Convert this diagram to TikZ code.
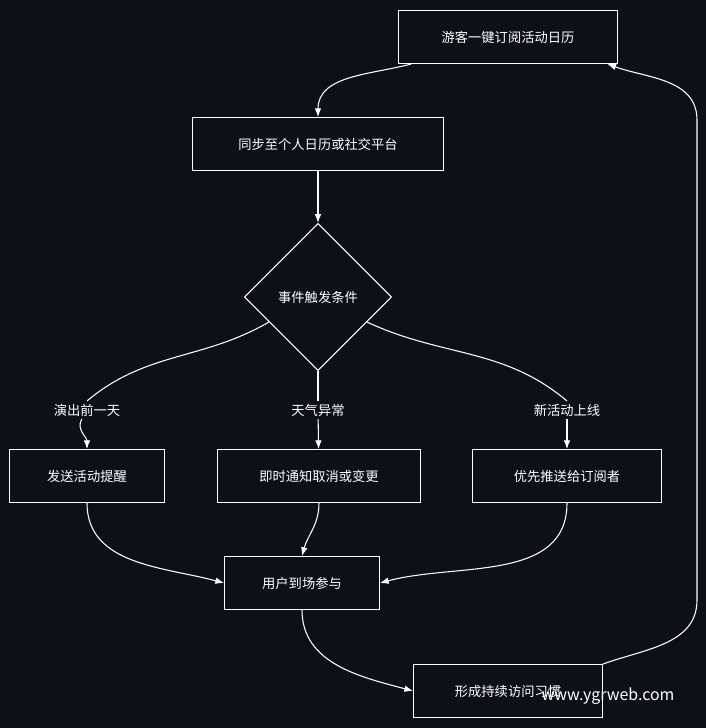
\documentclass[tikz,border=0pt]{standalone}
\usepackage{fontspec}
\setmainfont{Noto Sans CJK SC}
\usetikzlibrary{positioning, arrows.meta, shapes.geometric}
\definecolor{bgdark}{HTML}{0D1117}
\tikzset{
    flowStep/.style={rectangle, draw=white, thick, fill=bgdark, text=white, align=center, minimum height=1.4cm},
    cond/.style={diamond, draw=white, thick, fill=bgdark, text=white, aspect=1, minimum size=3.9cm, inner sep=0pt},
    cue/.style={text=white, fill=bgdark, inner sep=2pt},
    arrow/.style={-Latex, white, thick}
}
\begin{document}
\begin{tikzpicture}[x=0.0265cm, y=-0.0265cm]
    \fill[bgdark] (0,0) rectangle (706,728);
    \useasboundingbox (0,0) rectangle (706,728);

    % main flow
    \node[flowStep, minimum width=5.8cm] (subscribe) at (508,37) {游客一键订阅活动日历};
    \node[flowStep, minimum width=6.65cm] (sync) at (318,144) {同步至个人日历或社交平台};
    \node[cond] (trigger) at (318,297) {事件触发条件};

    % branches
    \node[cue] (cueShow) at (87,410) {演出前一天};
    \node[cue] (cueWeather) at (318,410) {天气异常};
    \node[cue] (cueNew) at (567,410) {新活动上线};
    \node[flowStep, minimum width=4.1cm] (remind) at (87,476) {发送活动提醒};
    \node[flowStep, minimum width=5.4cm] (notify) at (319,476) {即时通知取消或变更};
    \node[flowStep, minimum width=5cm] (push) at (567,476) {优先推送给订阅者};

    \node[flowStep, minimum width=4.1cm] (attend) at (302,583) {用户到场参与};
    \node[flowStep, minimum width=5cm] (habit) at (508,691) {形成持续访问习惯};

    \draw[arrow] ([xshift=10]subscribe.south west) to[out=-165,in=90] (sync.north);
    \draw[arrow] (sync) -- (trigger);
    \draw[white, thick] ([shift={(-12,-12)}]trigger.south west) to[out=-150,in=40] (cueShow.north);
    \draw[white, thick] (trigger.south) -- (cueWeather.north);
    \draw[white, thick] ([shift={(12,-12)}]trigger.south east) to[out=-25,in=140] (cueNew.north);
    \draw[arrow] (cueShow) to[out=-120,in=90] (remind);
    \draw[arrow] (cueWeather) -- (notify);
    \draw[arrow] (cueNew) -- (push);
    \draw[arrow] (remind.south) to[out=-90,in=165] (attend.west);
    \draw[arrow] (notify.south) to[out=-90,in=75] (attend.north);
    \draw[arrow] (push.south) to[out=-90,in=15] (attend.east);
    \draw[arrow] (attend.south) to[out=-90,in=165] (habit.west);
    \draw[arrow] (habit.north east) to[out=20,in=-90] (697,600) -- (697,120) to[out=90,in=-20] ([xshift=-8]subscribe.south east);

    % watermark
    \node[text=white, font=\large] (mark) at (608,696) {www.ygrweb.com};
\end{tikzpicture}
\end{document}
